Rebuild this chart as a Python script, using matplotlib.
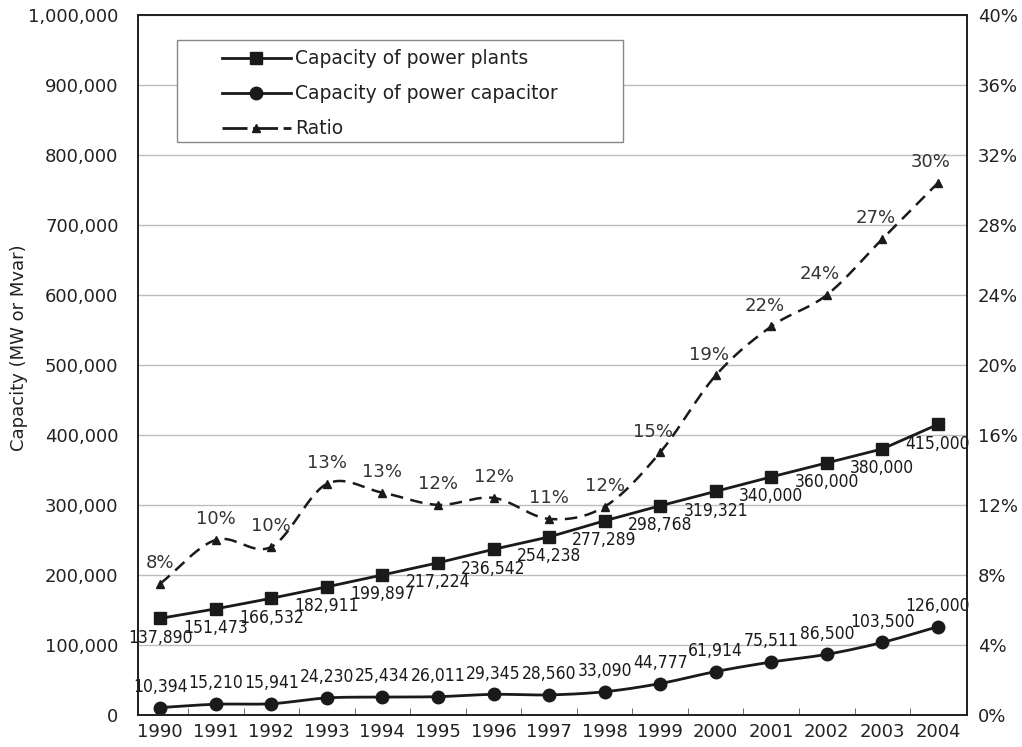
import numpy as np
import matplotlib.pyplot as plt
from matplotlib.ticker import FuncFormatter, FixedLocator
from matplotlib.patches import Rectangle

years = ["1990", "1991", "1992", "1993", "1994", "1995", "1996", "1997",
         "1998", "1999", "2000", "2001", "2002", "2003", "2004"]
plants = [137890, 151473, 166532, 182911, 199897, 217224, 236542, 254238,
          277289, 298768, 319321, 340000, 360000, 380000, 415000]
capacitor = [10394, 15210, 15941, 24230, 25434, 26011, 29345, 28560,
             33090, 44777, 61914, 75511, 86500, 103500, 126000]
ratio = [7.5, 10.0, 9.6, 13.2, 12.7, 12.0, 12.4, 11.2,
         11.9, 15.0, 19.4, 22.2, 24.0, 27.2, 30.4]
ratio_labels = ["8%", "10%", "10%", "13%", "13%", "12%", "12%", "11%",
                "12%", "15%", "19%", "22%", "24%", "27%", "30%"]


def smooth(x, y, n=20):
    # catmull-rom, like the excel "smoothed line"
    x = np.asarray(x, float)
    y = np.asarray(y, float)
    px = np.concatenate([[2 * x[0] - x[1]], x, [2 * x[-1] - x[-2]]])
    py = np.concatenate([[2 * y[0] - y[1]], y, [2 * y[-1] - y[-2]]])
    xs, ys = [], []
    t = np.linspace(0, 1, n, endpoint=False)
    for i in range(1, len(px) - 2):
        for p, out in ((px, xs), (py, ys)):
            p0, p1, p2, p3 = p[i - 1], p[i], p[i + 1], p[i + 2]
            out.extend(0.5 * ((2 * p1) + (-p0 + p2) * t
                              + (2 * p0 - 5 * p1 + 4 * p2 - p3) * t ** 2
                              + (-p0 + 3 * p1 - 3 * p2 + p3) * t ** 3))
    xs.append(x[-1])
    ys.append(y[-1])
    return np.array(xs), np.array(ys)


x = np.arange(len(years))

fig = plt.figure(figsize=(10.22, 7.47), dpi=100)
ax = fig.add_axes([0.135, 0.043, 0.811, 0.937])
ax2 = ax.twinx()

ax.set_xlim(-0.4, 14.52)
ax.set_ylim(0, 1000000)
ax2.set_ylim(0, 40)

ax.set_yticks(np.arange(0, 1000001, 100000))
ax.yaxis.set_major_formatter(FuncFormatter(lambda v, p: "{:,.0f}".format(v)))
ax2.set_yticks(np.arange(0, 41, 4))
ax2.yaxis.set_major_formatter(FuncFormatter(lambda v, p: "%d%%" % v))
ax.grid(axis="y", color="#bdbdbd", lw=1)
ax.set_axisbelow(True)

ax.set_xticks(x)
ax.set_xticklabels(years)
ax.xaxis.set_minor_locator(FixedLocator(x[:-1] + 0.5))
ax.tick_params(axis="x", which="major", length=0, labelsize=13, pad=6,
               labelcolor="#222222")
ax.tick_params(axis="x", which="minor", length=5, direction="in", color="#555555")
ax.tick_params(axis="y", length=0, labelsize=13, pad=14, labelcolor="#222222")
ax2.tick_params(axis="y", length=0, labelsize=13, pad=8, labelcolor="#222222")
for a in (ax, ax2):
    for s in a.spines.values():
        s.set_linewidth(1.3)
        s.set_color("#222222")

ax.set_ylabel("Capacity (MW or Mvar)", fontsize=13, color="#222222")
ax.yaxis.set_label_coords(-0.133, 0.525)

col = "#1a1a1a"
l1, = ax.plot(x, plants, color=col, lw=2, marker="s", ms=9,
              label="Capacity of power plants")
sx, sy = smooth(x, capacitor)
ax.plot(sx, sy, color=col, lw=2)
ax.plot(x, capacitor, color=col, lw=0, marker="o", ms=9)
l2, = ax.plot([], [], color=col, lw=2, marker="o", ms=9,
              label="Capacity of power capacitor")
rx, ry = smooth(x, ratio)
ax2.plot(rx, ry, color=col, lw=1.8, dashes=(5, 3))
ax2.plot(x, ratio, color=col, lw=0, marker="^", ms=6)
l3, = ax2.plot([], [], color=col, lw=2, marker="^", ms=6, dashes=(9, 2),
               label="Ratio")

for i in range(len(x)):
    ax.annotate("{:,}".format(plants[i]), (x[i], plants[i]), xytext=(0, -14),
                textcoords="offset points", ha="center", va="center",
                fontsize=12.5, family="DejaVu Sans", fontstretch="condensed",
                color=col)
    ax.annotate("{:,}".format(capacitor[i]), (x[i], capacitor[i]), xytext=(0, 15),
                textcoords="offset points", ha="center", va="center",
                fontsize=12.5, family="DejaVu Sans", fontstretch="condensed",
                color=col)
    dx = -5 if i >= 9 else 0
    ax2.annotate(ratio_labels[i], (x[i], ratio[i]), xytext=(dx, 15),
                 textcoords="offset points", ha="center", va="center",
                 fontsize=13, color="#333333")

# legend frame drawn by hand so it can match the wide box
ax.add_patch(Rectangle((0.047, 0.819), 0.538, 0.145, transform=ax.transAxes,
                       facecolor="white", edgecolor="#888888", lw=1, zorder=4))
leg = ax.legend(handles=[l1, l2, l3], loc="upper left",
                bbox_to_anchor=(0.101, 0.951), fontsize=13.5, handlelength=3.7,
                handletextpad=0.2, borderpad=0, labelspacing=0.85,
                frameon=False, borderaxespad=0)
leg.set_zorder(5)
for t in leg.get_texts():
    t.set_color("#222222")

fig.savefig("out.png", dpi=100)
